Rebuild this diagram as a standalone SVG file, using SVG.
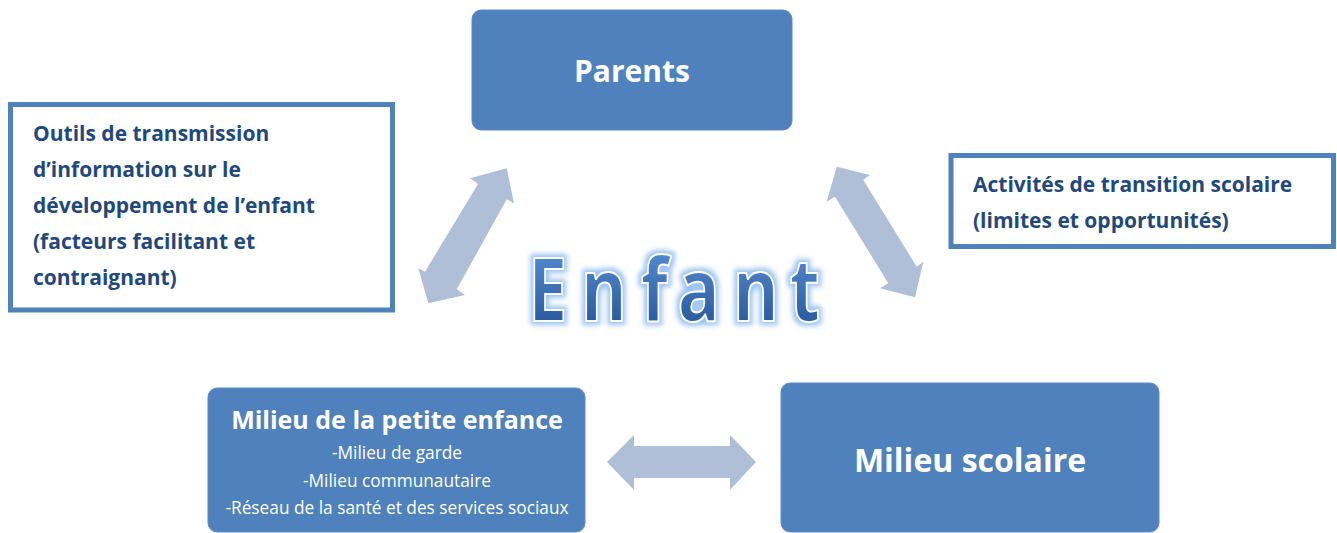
<svg xmlns="http://www.w3.org/2000/svg" width="1337" height="533" viewBox="0 0 1337 533">
<defs>
<linearGradient id="eg" x1="0" y1="0" x2="0" y2="1">
<stop offset="0" stop-color="#6199e0"/>
<stop offset="1" stop-color="#1e4c8f"/>
</linearGradient>
<filter id="glow" x="-10%" y="-30%" width="120%" height="160%">
<feMorphology in="SourceAlpha" operator="dilate" radius="3" result="d"/>
<feGaussianBlur in="d" stdDeviation="2.5" result="b"/>
<feFlood flood-color="#9cc4f2"/>
<feComposite in2="b" operator="in" result="g"/>
<feMerge><feMergeNode in="g"/><feMergeNode in="SourceGraphic"/></feMerge>
</filter>
</defs>
<style>
.box{fill:#4f81bd;stroke:#5f8dc6;stroke-width:1}
.note{fill:#fff;stroke:#4f81bd;stroke-width:5}
.arrow{fill:#afbfd8}
.ttl{font-family:"Open Sans","Liberation Sans",sans-serif;font-weight:bold;fill:#fff;text-anchor:middle}
.sub{font-family:"Open Sans","Liberation Sans",sans-serif;font-size:17.3px;fill:#fff;text-anchor:middle}
.nt{font-family:"Open Sans","Liberation Sans",sans-serif;font-weight:bold;font-size:21px;fill:#1f497d}
.enf{font-family:"Open Sans","Liberation Sans",sans-serif;font-weight:bold;font-size:88px;fill:url(#eg);stroke:#fff;stroke-width:2}
</style>
<rect width="1337" height="533" fill="#fff"/>
<g id="connectors">
<polygon class="arrow" points="506.7,168.3 514,203.3 506.7,199.3 456.7,289.3 465,295 428.3,303.3 418.3,268.3 425,271.7 478,184 470,178.3"/>
<polygon class="arrow" points="836.7,166.7 870,175 863.3,180 916.7,266.7 923.3,261.7 915,297.3 880,288.3 888.3,283.3 835,196.7 826.7,201.7"/>
<polygon class="arrow" points="607,462 634,435 634,446 730,446 730,435 756,462 730,490 730,478 634,478 634,490"/>
</g>
<g id="parents">
<rect class="box" x="472" y="10" width="320" height="120" rx="9"/>
<text class="ttl" x="632" y="82" font-size="30">Parents</text>
</g>
<g id="outils">
<rect class="note" x="10.5" y="104.5" width="382" height="205.5"/>
<text class="nt" x="33" y="141">Outils de transmission</text>
<text class="nt" x="33" y="177">d’information sur le</text>
<text class="nt" x="33" y="213">développement de l’enfant</text>
<text class="nt" x="33" y="249">(facteurs facilitant et</text>
<text class="nt" x="33" y="285">contraignant)</text>
</g>
<g id="activites">
<rect class="note" x="951" y="155.5" width="382.5" height="91"/>
<text class="nt" x="973" y="192">Activités de transition scolaire</text>
<text class="nt" x="973" y="228">(limites et opportunités)</text>
</g>
<g id="enfant" filter="url(#glow)">
<g transform="translate(0,321) scale(0.8,1)">
<text class="enf" x="660 726 801 847 916 987" y="0">Enfant</text>
</g>
</g>
<g id="petite-enfance">
<rect class="box" x="208" y="388" width="377" height="144" rx="9"/>
<text class="ttl" x="397" y="429" font-size="25">Milieu de la petite enfance</text>
<text class="sub" x="397" y="459">-Milieu de garde</text>
<text class="sub" x="397" y="487">-Milieu communautaire</text>
<text class="sub" x="397" y="514">-Réseau de la santé et des services sociaux</text>
</g>
<g id="milieu-scolaire">
<rect class="box" x="781" y="383" width="378" height="149" rx="9"/>
<text class="ttl" x="970" y="472" font-size="32">Milieu scolaire</text>
</g>
</svg>
